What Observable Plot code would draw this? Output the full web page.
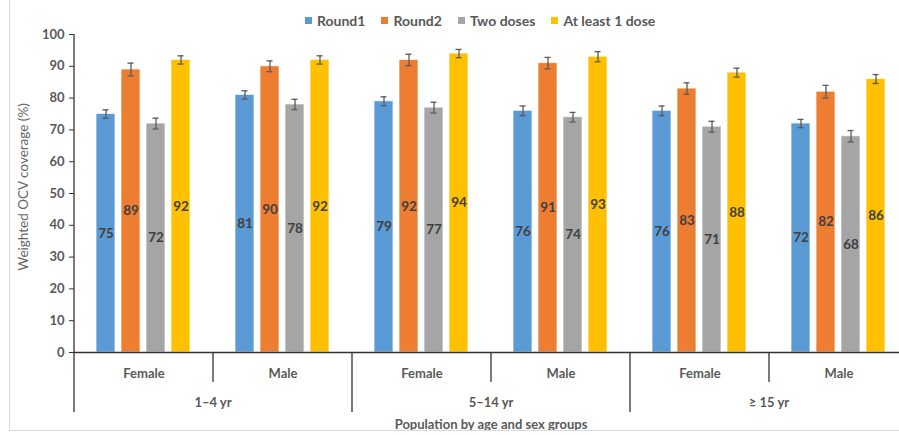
<!DOCTYPE html>
<html><head><meta charset="utf-8">
<script src="https://cdn.jsdelivr.net/npm/d3@7"></script>
<script src="https://cdn.jsdelivr.net/npm/@observablehq/plot@0.6"></script>
<style>
html,body{margin:0;padding:0;background:#fff;}
#wrap{position:relative;width:899px;height:435px;overflow:hidden;font-family:Lato,"Open Sans",sans-serif;}
#border{position:absolute;left:9px;top:-2px;width:900px;height:433px;border:1px solid #d9d9d9;box-sizing:border-box;pointer-events:none;}
#legend{height:26px;box-sizing:border-box;padding-top:15px;padding-left:305px;display:flex;gap:16px;font-size:14px;line-height:14px;font-weight:bold;color:#595959;}
#legend .it{display:flex;align-items:center;gap:5px;white-space:nowrap;}
#legend .sw{width:7px;height:7px;display:inline-block;}
#chart svg{display:block;overflow:visible;}
</style></head>
<body>
<div id="wrap">
<div id="border"></div>
<div id="legend"></div>
<div id="chart"></div>
</div>
<script>
const ageGroups = ["1–4 yr","1–4 yr","5–14 yr","5–14 yr","≥ 15 yr","≥ 15 yr"];
const sexGroups = ["Female","Male","Female","Male","Female","Male"];
const seriesNames = ["Round1","Round2","Two doses","At least 1 dose"];
const seriesColors = ["#5B9BD5","#ED7D31","#A5A5A5","#FFC000"];
const round1 = [75,81,79,76,76,72];
const round2 = [89,90,92,91,83,82];
const twoDoses = [72,78,77,74,71,68];
const atLeast1 = [92,92,94,93,88,86];
const errRound1 = [1.3,1.3,1.4,1.5,1.5,1.3];
const errRound2 = [2.0,1.7,1.8,1.8,1.8,2.0];
const errTwoDoses = [1.7,1.6,1.7,1.5,1.7,1.8];
const errAtLeast1 = [1.3,1.3,1.3,1.6,1.4,1.4];
const yTicks = [0,10,20,30,40,50,60,70,80,90,100];
const yTitle = "Weighted OCV coverage (%)";
const xTitle = "Population by age and sex groups";

const values = [round1, round2, twoDoses, atLeast1];
const errors = [errRound1, errRound2, errTwoDoses, errAtLeast1];
const groupKeys = ageGroups.map((a,i) => a + "|" + sexGroups[i]);
const rows = [];
groupKeys.forEach((g,i) => seriesNames.forEach((s,j) => rows.push({group:g, series:s, value:values[j][i], err:errors[j][i]})));

// legend
const leg = d3.select("#legend");
seriesNames.forEach((s,j) => {
  const it = leg.append("div").attr("class","it");
  it.append("span").attr("class","sw").style("background", seriesColors[j]);
  it.append("span").text(s);
});

const W = 899, H = 409, ML = 72, MR = -10, MT = 8, MB = 83;
const chart = Plot.plot({
  width: W, height: H,
  marginLeft: ML, marginRight: MR, marginTop: MT, marginBottom: MB,
  style: {fontFamily: "Lato, 'Open Sans', sans-serif", fontSize: "13px", fontWeight: "bold", color: "#595959", background: "white"},
  fx: {domain: groupKeys, padding: 0, axis: "bottom", tickSize: 0, tickPadding: 16, label: null, tickFormat: d => d.split("|")[1]},
  x: {domain: seriesNames, paddingInner: 0.235, paddingOuter: 0.85, axis: null},
  y: {domain: [0,100], ticks: yTicks, tickSize: 5, tickPadding: 5, label: null, tickFormat: d => d},
  color: {domain: seriesNames, range: seriesColors},
  marks: [
    Plot.barY(rows, {fx: "group", x: "series", y: "value", fill: "series", stroke: "white", strokeOpacity: 0.7, strokeWidth: 1}),
    Plot.ruleX(rows, {fx: "group", x: "series", y1: d => d.value - d.err, y2: d => d.value + d.err, stroke: "#595959", strokeWidth: 1.3}),
    Plot.tickY(rows, {fx: "group", x: "series", y: d => d.value - d.err, stroke: "#595959", strokeWidth: 1.3, insetLeft: 6.5, insetRight: 6.5}),
    Plot.tickY(rows, {fx: "group", x: "series", y: d => d.value + d.err, stroke: "#595959", strokeWidth: 1.3, insetLeft: 6.5, insetRight: 6.5}),
    Plot.text(rows, {fx: "group", x: "series", y: d => d.value / 2, text: d => String(d.value), fill: "#404040", fontWeight: "bold", fontSize: 13.5}),
    Plot.ruleY([0], {stroke: "#333", strokeWidth: 1.3})
  ]
});
document.getElementById("chart").appendChild(chart);

// hierarchical category axis, using Plot's own scales
const svg = d3.select(chart.tagName.toLowerCase() === "svg" ? chart : chart.querySelector("svg"));
const fx = chart.scale("fx");
const y = chart.scale("y");
const y0 = y.apply(0), y100 = y.apply(100);
const bw = fx.bandwidth;
const g = svg.append("g").attr("stroke", "#333").attr("stroke-width", 1.3);
const xLeft = fx.apply(groupKeys[0]);
g.append("line").attr("x1", xLeft).attr("x2", xLeft).attr("y1", y100).attr("y2", y0 + 60);
groupKeys.forEach((k,i) => {
  const x0 = fx.apply(k);
  if (i === 0) return;
  const major = ageGroups[i] !== ageGroups[i-1];
  g.append("line").attr("x1", x0).attr("x2", x0).attr("y1", y0).attr("y2", y0 + (major ? 60 : 30));
});
const xr = fx.apply(groupKeys[groupKeys.length-1]) + bw;
g.append("line").attr("x1", xr).attr("x2", xr).attr("y1", y0).attr("y2", y0 + 60);
const ages = Array.from(new Set(ageGroups));
ages.forEach(a => {
  const idx = ageGroups.map((v,i) => v === a ? i : -1).filter(i => i >= 0);
  const xa = fx.apply(groupKeys[idx[0]]);
  const xb = fx.apply(groupKeys[idx[idx.length-1]]) + bw;
  svg.append("text").attr("x", (xa + xb) / 2).attr("y", y0 + 50).attr("dy", "0.35em")
    .attr("text-anchor", "middle").attr("fill", "#595959").attr("font-weight", "bold").attr("font-size", 13).text(a);
});
svg.append("text").attr("x", (xLeft + xr) / 2).attr("y", y0 + 72).attr("dy", "0.35em")
  .attr("text-anchor", "middle").attr("fill", "#595959").attr("font-weight", "bold").attr("font-size", 13).text(xTitle);
svg.append("text").attr("transform", `translate(23,${(y0 + y100) / 2 - 6}) rotate(-90)`).attr("dy", "0.35em")
  .attr("text-anchor", "middle").attr("fill", "#666").attr("font-weight", "normal").attr("font-size", 13.5).text(yTitle);
svg.selectAll("g[aria-label^='y-axis'] line, g[aria-label^='y-axis'] path").attr("stroke", "#333");
</script>
</body></html>
